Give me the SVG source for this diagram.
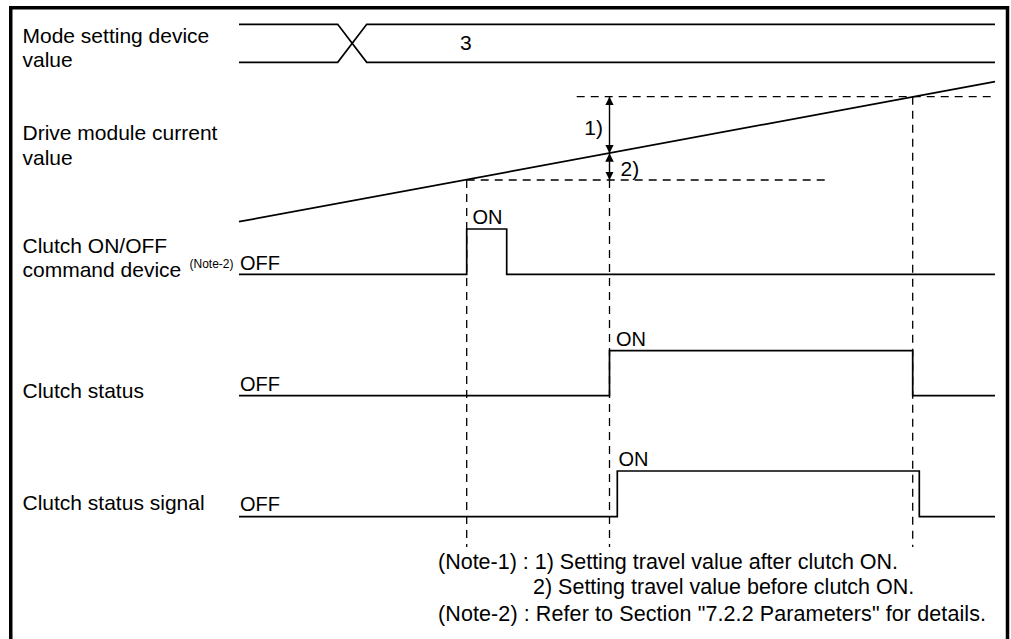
<svg xmlns="http://www.w3.org/2000/svg" width="1011" height="639" viewBox="0 0 1011 639">
<style>
text{font-family:"Liberation Sans",Arial,sans-serif;fill:#000}
.lbl{font-size:21px}
.st{font-size:20px}
.note{font-size:21.5px}
.small{font-size:12px}
.sig{fill:none;stroke:#000;stroke-width:1.7}
.dash{fill:none;stroke:#000;stroke-width:1.3;stroke-dasharray:8 6}
.dim{fill:none;stroke:#000;stroke-width:1.4;marker-start:url(#ah);marker-end:url(#ah)}
</style>
<defs>
<marker id="ah" viewBox="0 0 10 10" refX="10" refY="5" markerWidth="8.5" markerHeight="9.5" markerUnits="userSpaceOnUse" orient="auto-start-reverse">
<path d="M0,0 L10,5 L0,10 z" fill="#000"/>
</marker>
</defs>
<rect width="1011" height="639" fill="#fff"/>
<path d="M10.75 639 V7.75 H1007.5 V639" fill="none" stroke="#000" stroke-width="3.5"/>

<g id="mode-setting">
<text class="lbl" x="22.5" y="43">Mode setting device</text>
<text class="lbl" x="22.5" y="67">value</text>
<path class="sig" d="M239 24.3 H337.7 L366.7 62.3 H995 M239 62.3 H337.7 L366.7 24.3 H995"/>
<text class="lbl" x="460" y="50">3</text>
</g>

<g id="drive-module">
<text class="lbl" x="22.5" y="140">Drive module current</text>
<text class="lbl" x="22.5" y="165">value</text>
<path class="sig" d="M239 221.7 L995 81.7"/>
</g>

<g id="clutch-command">
<text class="lbl" x="22.5" y="252.5">Clutch ON/OFF</text>
<text class="lbl" x="22.5" y="276.5">command device</text>
<text class="small" x="189.5" y="268">(Note-2)</text>
<text class="st" x="240" y="270">OFF</text>
<text class="st" x="472.5" y="224">ON</text>
<path class="sig" d="M239 274.3 H466.7 V229 H506.7 V274.3 H995"/>
</g>

<g id="clutch-status">
<text class="lbl" x="22.5" y="398">Clutch status</text>
<text class="st" x="240" y="390.5">OFF</text>
<text class="st" x="616" y="346">ON</text>
<path class="sig" d="M239 395.7 H609.5 V350.7 H912.7 V395.7 H995"/>
</g>

<g id="clutch-status-signal">
<text class="lbl" x="22.5" y="510">Clutch status signal</text>
<text class="st" x="240" y="510.5">OFF</text>
<text class="st" x="618.5" y="465.5">ON</text>
<path class="sig" d="M239 516.7 H617.3 V471 H919.3 V516.7 H995"/>
</g>

<g id="connectors">
<path class="dash" d="M576.7 96.7 H995"/>
<path class="dash" d="M466.7 180 H826"/>
<path class="dash" d="M466.7 180 V547"/>
<path class="dash" d="M609.5 180 V547"/>
<path class="dash" d="M912.7 96.7 V547"/>
<path class="dim" d="M609.5 96.7 V153.3"/>
<path class="dim" d="M609.5 153.3 V180"/>
<text class="lbl" x="603" y="135" text-anchor="end">1)</text>
<text class="lbl" x="620.5" y="176">2)</text>
</g>

<g id="notes">
<text class="note" x="438" y="568.5">(Note-1) : 1) Setting travel value after clutch ON.</text>
<text class="note" x="533" y="594">2) Setting travel value before clutch ON.</text>
<text class="note" x="438" y="621" textLength="548" lengthAdjust="spacing">(Note-2) : Refer to Section "7.2.2 Parameters" for details.</text>
</g>
</svg>
